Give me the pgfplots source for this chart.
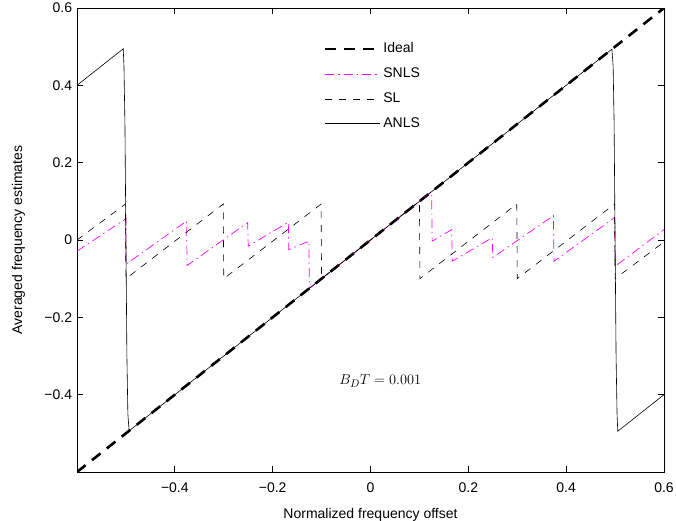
\documentclass[border=0pt]{standalone}
\usepackage{pgfplots}
\pgfplotsset{compat=1.18}
\usepackage{fontspec}
\setmainfont{Liberation Sans}
\definecolor{mag}{rgb}{1,0,1}
\begin{document}
\fontsize{14}{17}\selectfont
\begin{tikzpicture}
\path[use as bounding box] (-77pt,-49pt) rectangle (599pt,472pt);
\begin{axis}[
  at={(0pt,0pt)}, anchor=south west,
  scale only axis, width=587pt, height=464pt,
  xmin=-0.6, xmax=0.6, ymin=-0.6, ymax=0.6,
  xtick={-0.4,-0.2,0,0.2,0.4,0.6},
  xticklabels={−0.4,−0.2,0,0.2,0.4,0.6},
  ytick={-0.4,-0.2,0,0.2,0.4,0.6},
  yticklabels={−0.4,−0.2,0,0.2,0.4,0.6},
  tick align=inside, major tick length=6pt,
  axis line style={line width=0.9pt},
  every tick/.style={line width=0.8pt, black},
  xticklabel style={yshift=-6pt},
  xlabel={Normalized frequency offset},
  ylabel={Averaged frequency estimates},
  xlabel style={yshift=-6pt},
  ylabel style={yshift=10pt},
  legend style={at={(0.415,0.934)}, anchor=north west, draw=white, fill=white,
    row sep=9pt, font=\fontsize{14}{17}\selectfont},
  legend cell align=left,
  legend image code/.code={\draw[#1] (0pt,0pt) -- (55pt,0pt);},
]
\addplot[color=black, line width=2.6pt, dash pattern=on 11pt off 8pt] coordinates {(-0.6,-0.6) (0.6,0.6)};
\addlegendentry{Ideal}

\addplot[mag, line width=0.7pt, dash pattern=on 9pt off 4pt on 1.5pt off 4pt,
  legend image code/.code={\draw[draw=mag, line width=0.7pt, dash pattern=on 9pt off 4pt on 1.5pt off 4pt] (0pt,0pt) -- (55pt,0pt);}] coordinates {
(-0.6,-0.029) (-0.5,0.055) (-0.5,-0.063)
(-0.376,0.049) (-0.375,-0.066)
(-0.251,0.045) (-0.25,-0.016)
(-0.168,0.046) (-0.167,-0.025)
(-0.126,-0.003) (-0.125,-0.125)
(0.125,0.125) (0.126,-0.003)
(0.166,0.027) (0.167,-0.055)
(0.249,0.006) (0.25,-0.045)
(0.374,0.063) (0.375,-0.055)
(0.499,0.058) (0.5,-0.068)
(0.6,0.027)};
\addlegendentry{SNLS}

\addplot[color=black, line width=0.6pt, dash pattern=on 7pt off 7pt] coordinates {
(-0.6,0.0) (-0.501,0.093) (-0.5,-0.1)
(-0.301,0.093) (-0.3,-0.1)
(-0.101,0.093) (-0.1,-0.1)
(0.1,0.1) (0.101,-0.1)
(0.299,0.093) (0.3,-0.1)
(0.499,0.093) (0.5,-0.1)
(0.6,-0.005)};
\addlegendentry{SL}

\addplot[color=black, line width=0.6pt] coordinates {
(-0.6,0.4) (-0.5055,0.4945) (-0.504,0.45) (-0.502,0.3) (-0.5,0) (-0.498,-0.3) (-0.496,-0.45) (-0.4935,-0.4935)
(0.4935,0.4935) (0.496,0.45) (0.498,0.3) (0.5,0) (0.502,-0.3) (0.504,-0.45) (0.5055,-0.4945) (0.6,-0.4)};
\addlegendentry{ANLS}

\node at (axis cs:0.02,-0.365) {\fontsize{15}{18}\selectfont$B_DT = 0.001$};
\end{axis}
\end{tikzpicture}
\end{document}
